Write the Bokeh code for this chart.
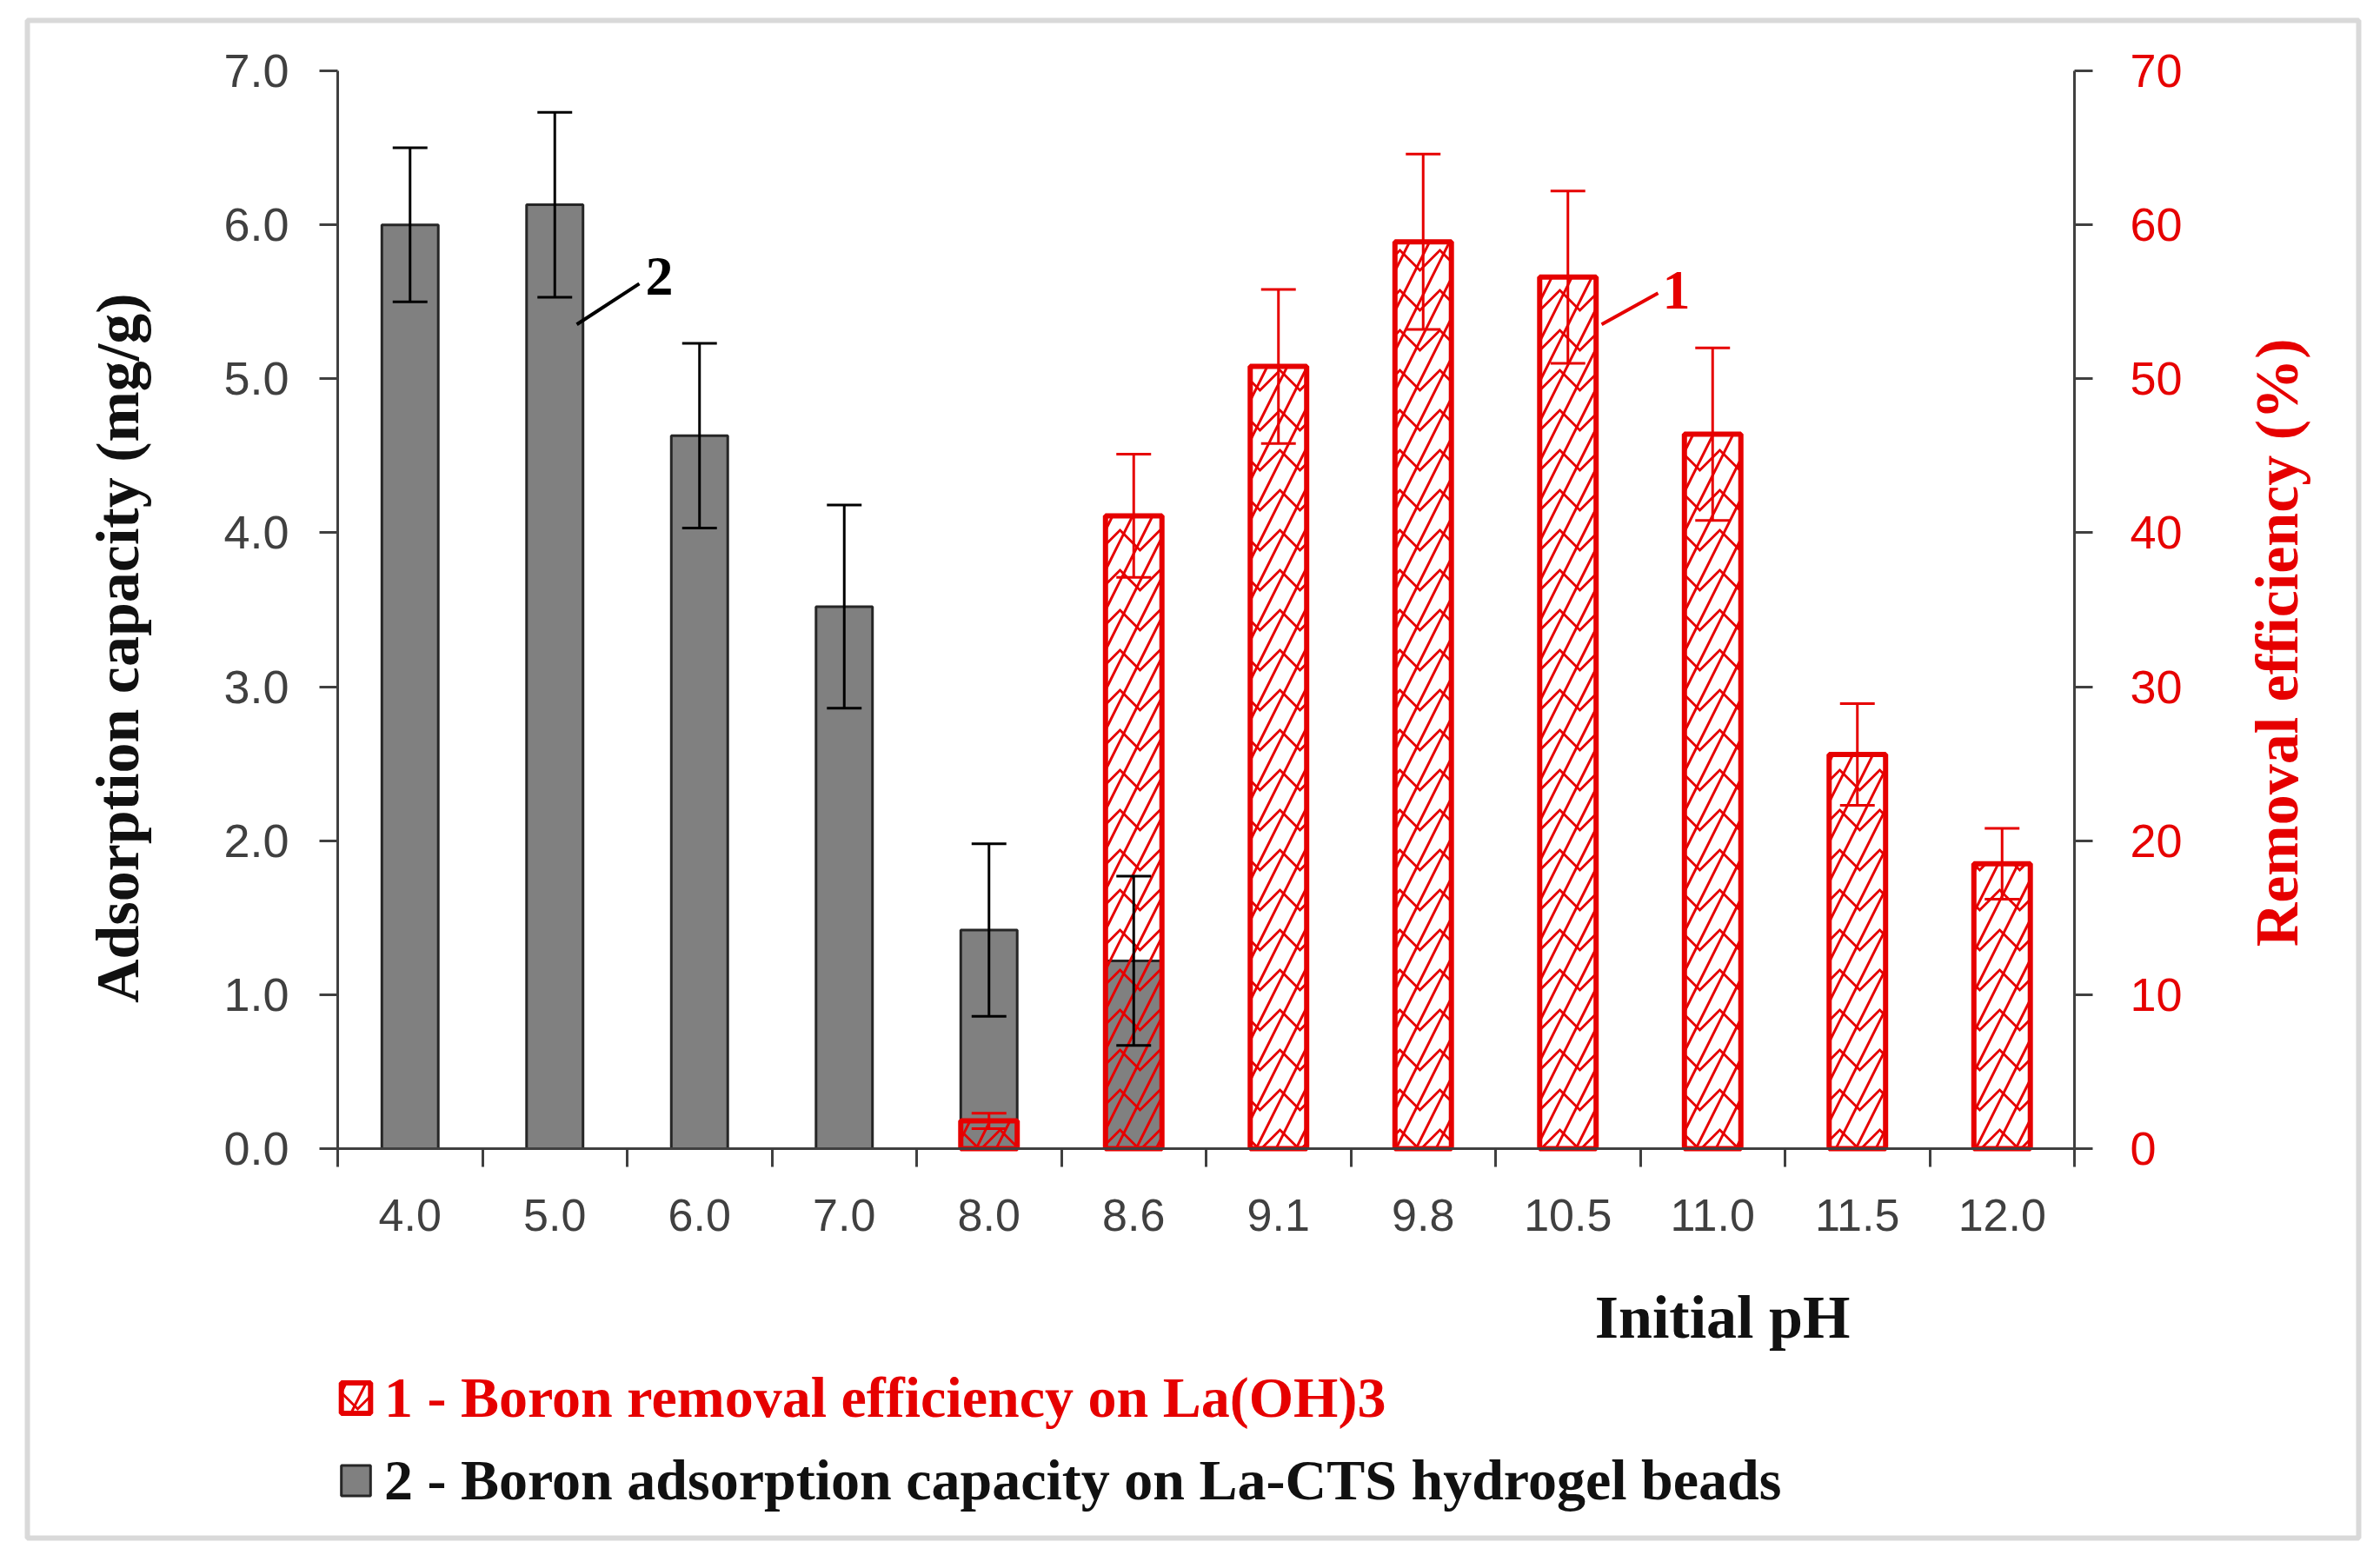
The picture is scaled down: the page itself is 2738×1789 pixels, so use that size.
import numpy as np
from bokeh.plotting import figure
from bokeh.models import (Range1d, LinearAxis, FixedTicker, PrintfTickFormatter, Label,
                          Legend, LegendItem, ColumnDataSource)
from bokeh.embed import file_html
from bokeh.resources import INLINE

# ---- data ----
categories = ["4.0", "5.0", "6.0", "7.0", "8.0", "8.6", "9.1", "9.8", "10.5", "11.0", "11.5", "12.0"]

capacity_ph = ["4.0", "5.0", "6.0", "7.0", "8.0", "8.6"]
capacity = [6.00, 6.13, 4.63, 3.52, 1.42, 1.22]          # mg/g
capacity_err = [0.50, 0.60, 0.60, 0.66, 0.56, 0.55]

removal_ph = ["8.0", "8.6", "9.1", "9.8", "10.5", "11.0", "11.5", "12.0"]
removal = [1.8, 41.1, 50.8, 58.9, 56.6, 46.4, 25.6, 18.5]  # %
removal_err = [0.5, 4.0, 5.0, 5.7, 5.6, 5.6, 3.3, 2.3]

left_ticks = [0, 1, 2, 3, 4, 5, 6, 7]
right_ticks = [0, 10, 20, 30, 40, 50, 60, 70]
LEFT_MAX = 7.0
RIGHT_MAX = 70.0

RED = "#e60000"
GRAY = "#808080"
DARK = "#404040"
SERIF = "Liberation Serif"
SANS = "Liberation Sans"

# ---- layout (canvas pixels) ----
W, H = 2722, 1773
BOX_L, BOX_R, BOX_T, BOX_B = 31, 2713, 23, 1769      # grey frame around the whole figure
AX_L, AX_R, AX_T, AX_B = 388, 2386, 81, 1321         # plotting area (axes)

n = len(categories)
px_x = (AX_R - AX_L) / n
px_y = (AX_B - AX_T) / LEFT_MAX
x0 = -(AX_L - BOX_L) / px_x
x1 = n + (BOX_R - AX_R) / px_x
y0 = -(BOX_B - AX_B) / px_y
y1 = LEFT_MAX + (AX_T - BOX_T) / px_y
k = RIGHT_MAX / LEFT_MAX

pos = {c: i + 0.5 for i, c in enumerate(categories)}
BAR_W = 0.39
CAP = 0.12

p = figure(width=W, height=H, x_range=Range1d(x0, x1), y_range=Range1d(y0, y1),
           output_backend="svg", toolbar_location=None, x_axis_type=None, y_axis_type=None,
           min_border_left=BOX_L, min_border_right=W - BOX_R, min_border_top=BOX_T,
           min_border_bottom=H - BOX_B)
p.extra_y_ranges = {"pct": Range1d(y0 * k, y1 * k)}
p.outline_line_color = "#d9d9d9"
p.outline_line_width = 6
p.grid.visible = False
p.background_fill_color = "white"
p.border_fill_color = "white"

# ---- axes ----
centers = [pos[c] for c in categories]
xa = LinearAxis(ticker=FixedTicker(ticks=centers, minor_ticks=list(range(n + 1))),
                major_label_overrides={pos[c]: c for c in categories},
                fixed_location=0, bounds=(0, n),
                major_tick_line_color=None, major_tick_out=0, major_tick_in=0,
                minor_tick_out=21, minor_tick_in=0, minor_tick_line_width=3, minor_tick_line_color=DARK,
                axis_line_color=DARK, axis_line_width=3,
                major_label_text_font=SANS, major_label_text_font_size="52px",
                major_label_text_color=DARK, major_label_standoff=37)
p.add_layout(xa, "below")

ya = LinearAxis(ticker=FixedTicker(ticks=left_ticks), formatter=PrintfTickFormatter(format="%.1f"),
                fixed_location=0, bounds=(0, LEFT_MAX),
                major_tick_out=21, major_tick_in=0, minor_tick_out=0, minor_tick_in=0,
                major_tick_line_width=3, major_tick_line_color=DARK,
                axis_line_color=DARK, axis_line_width=3,
                major_label_text_font=SANS, major_label_text_font_size="54px",
                major_label_text_color=DARK, major_label_standoff=35)
p.add_layout(ya, "left")

ra = LinearAxis(y_range_name="pct", ticker=FixedTicker(ticks=right_ticks),
                fixed_location=n, bounds=(0, RIGHT_MAX),
                major_tick_out=21, major_tick_in=0, minor_tick_out=0, minor_tick_in=0,
                major_tick_line_width=3, major_tick_line_color=DARK,
                axis_line_color=DARK, axis_line_width=3,
                major_label_text_font=SANS, major_label_text_font_size="54px",
                major_label_text_color=RED, major_label_standoff=43)
p.add_layout(ra, "right")

# ---- sources ----
gx = [pos[c] for c in capacity_ph]
gsrc = ColumnDataSource(dict(
    x=gx, top=capacity,
    up=[v + e for v, e in zip(capacity, capacity_err)],
    lo=[v - e for v, e in zip(capacity, capacity_err)],
    xl=[x - CAP for x in gx], xr=[x + CAP for x in gx]))
rx = [pos[c] for c in removal_ph]
rsrc = ColumnDataSource(dict(
    x=rx, top=removal,
    up=[v + e for v, e in zip(removal, removal_err)],
    lo=[v - e for v, e in zip(removal, removal_err)],
    xl=[x - CAP for x in rx], xr=[x + CAP for x in rx]))

# ---- bars ----
r_gray = p.vbar(x="x", top="top", width=BAR_W, source=gsrc, fill_color=GRAY,
                line_color="#262626", line_width=3)
r_red1 = p.vbar(x="x", top="top", width=BAR_W, source=rsrc, y_range_name="pct",
                fill_color=None, line_color=None, hatch_pattern="v", hatch_color=RED,
                hatch_scale=46, hatch_weight=3)
r_red2 = p.vbar(x="x", top="top", width=BAR_W, source=rsrc, y_range_name="pct",
                fill_color=None, line_color=RED, line_width=6, hatch_pattern="/",
                hatch_color=RED, hatch_scale=46, hatch_weight=3)

# ---- error bars ----
p.segment(x0="x", y0="lo", x1="x", y1="up", source=rsrc, y_range_name="pct", line_color=RED, line_width=3)
p.segment(x0="xl", y0="up", x1="xr", y1="up", source=rsrc, y_range_name="pct", line_color=RED, line_width=3)
p.segment(x0="xl", y0="lo", x1="xr", y1="lo", source=rsrc, y_range_name="pct", line_color=RED, line_width=3)
p.segment(x0="x", y0="lo", x1="x", y1="up", source=gsrc, line_color="black", line_width=3)
p.segment(x0="xl", y0="up", x1="xr", y1="up", source=gsrc, line_color="black", line_width=3)
p.segment(x0="xl", y0="lo", x1="xr", y1="lo", source=gsrc, line_color="black", line_width=3)

# ---- series call-outs ----
p.segment(x0=[1.652], y0=[5.353], x1=[2.084], y1=[5.618], line_color="black", line_width=4)
p.add_layout(Label(x=2.222, y=5.663, text="2", text_font=SERIF, text_font_style="bold",
                   text_font_size="64px", text_color="black", text_align="center", text_baseline="middle"))
p.segment(x0=[8.733], y0=[5.353], x1=[9.123], y1=[5.556], line_color=RED, line_width=4)
p.add_layout(Label(x=9.249, y=5.573, text="1", text_font=SERIF, text_font_style="bold",
                   text_font_size="64px", text_color=RED, text_align="center", text_baseline="middle"))

# ---- axis titles ----
p.add_layout(Label(x=-1.52, y=3.25, text="Adsorption capacity (mg/g)", angle=np.pi / 2,
                   text_font=SERIF, text_font_style="bold", text_font_size="70px", text_color="#111111",
                   text_align="center", text_baseline="middle"))
p.add_layout(Label(x=13.40, y=3.286, text="Removal efficiency (%)", angle=np.pi / 2,
                   text_font=SERIF, text_font_style="bold", text_font_size="70px", text_color=RED,
                   text_align="center", text_baseline="middle"))
p.add_layout(Label(x=9.568, y=-1.095, text="Initial pH", text_font=SERIF, text_font_style="bold",
                   text_font_size="70px", text_color="#111111", text_align="center", text_baseline="middle"))

# ---- legends ----
common = dict(glyph_width=42, glyph_height=44, label_standoff=12, padding=0, margin=0,
              border_line_color=None, background_fill_alpha=0, label_text_font=SERIF,
              label_text_font_style="bold", label_text_font_size="66px", spacing=0)
leg_x = AX_L - BOX_L
leg1 = Legend(items=[LegendItem(label="1 - Boron removal efficiency on La(OH)3", renderers=[r_red1, r_red2])],
              location=(leg_x, 123), label_text_color=RED, **common)
leg2 = Legend(items=[LegendItem(label="2 - Boron adsorption capacity on La-CTS hydrogel beads", renderers=[r_gray])],
              location=(leg_x, 28), label_text_color="#111111", **common)
p.add_layout(leg1, "center")
p.add_layout(leg2, "center")

open("out.html", "w").write(file_html(p, INLINE))
